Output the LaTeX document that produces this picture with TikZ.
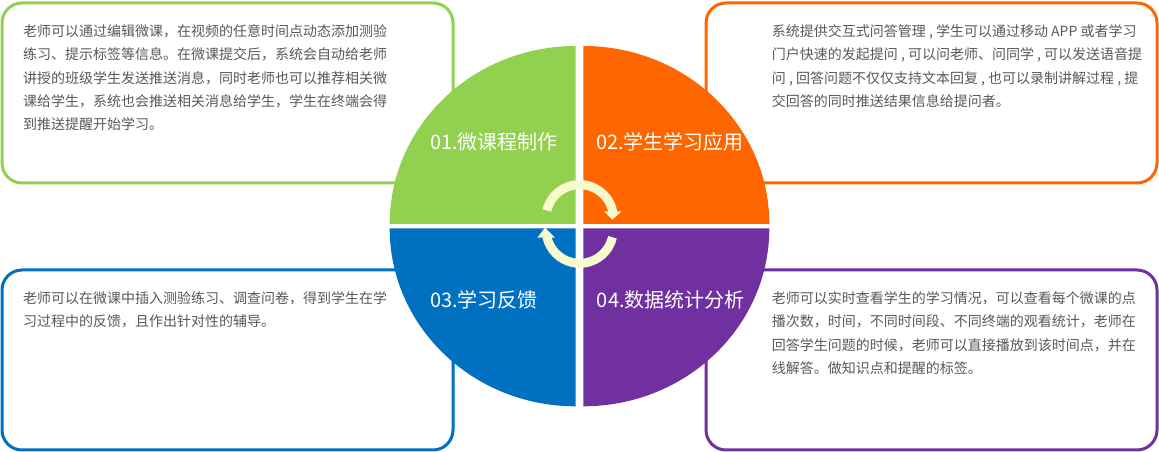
\documentclass[tikz,border=0pt]{standalone}
\usepackage{fontspec}
\setmainfont{Noto Sans CJK SC}
\definecolor{cgreen}{HTML}{92D050}
\definecolor{corange}{HTML}{FF6600}
\definecolor{cblue}{HTML}{0070C0}
\definecolor{cpurple}{HTML}{7030A0}
\definecolor{cring}{RGB}{248,250,205}
\definecolor{ctext}{HTML}{595959}
\tikzset{
  infobox/.style={line width=3pt, rounded corners=20pt, fill=white},
  txt/.style={inner sep=0pt, anchor=base west, text=ctext, font=\fontsize{14}{16}\selectfont},
  ttl/.style={inner sep=0pt, anchor=base west, text=white, font=\fontsize{20}{22}\selectfont},
  ring/.style={draw=cring, line width=9pt},
  ringhead/.style={fill=cring, draw=none},
}
\begin{document}
\begin{tikzpicture}[x=1pt,y=1pt]
\useasboundingbox (0,0) rectangle (1159,452);
\fill[white] (0,0) rectangle (1159,452);
% info boxes
\draw[infobox, draw=cgreen]  (2,449)   rectangle (453,269);
\draw[infobox, draw=corange] (706,449) rectangle (1157,269);
\draw[infobox, draw=cblue]   (2,182)   rectangle (453,2);
\draw[infobox, draw=cpurple] (706,182) rectangle (1157,2);
% quadrants
\fill[cgreen]  (575.7,228) -- (389.7,228) arc[start angle=180,end angle=90,x radius=186,y radius=178] -- cycle;
\fill[corange] (583.3,228) -- (583.3,406) arc[start angle=90,end angle=0,x radius=186,y radius=178] -- cycle;
\fill[cblue]   (575.7,223.7) -- (389.7,223.7) arc[start angle=180,end angle=270,x radius=186,y radius=178] -- cycle;
\fill[cpurple] (583.3,223.7) -- (769.3,223.7) arc[start angle=0,end angle=-90,x radius=186,y radius=178] -- cycle;
% cycle arrows
\coordinate (c1) at (579.7,233.6);
\coordinate (c2) at (579.7,222.3);
\draw[ring] ([shift={(166.5:33.8)}]c1) arc[start angle=166.5,end angle=10,radius=33.8];
\fill[ringhead] (604,240.7) -- (621.7,240.7) -- (612.3,232.3) -- cycle;
\draw[ring] ([shift={(-13:33.6)}]c2) arc[start angle=-13,end angle=-168,radius=33.6];
\fill[ringhead] (537.3,214.3) -- (555,214.3) -- (545,224.3) -- cycle;
% titles
\node[ttl] (t1) at (430,302.4) {01.微课程制作};
\node[ttl] (t2) at (596,302.4) {02.学生学习应用};
\node[ttl] (t3) at (430,144.4) {03.学习反馈};
\node[ttl] (t4) at (596.7,144.4) {04.数据统计分析};
% texts
\foreach \s [count=\i] in {{老师可以通过编辑微课，在视频的任意时间点动态添加测验},{练习、提示标签等信息。在微课提交后，系统会自动给老师},{讲授的班级学生发送推送消息，同时老师也可以推荐相关微},{课给学生，系统也会推送相关消息给学生，学生在终端会得},{到推送提醒开始学习。}}
  \node[txt] (tl\i) at (23,{415.3-23.3*(\i-1)}) {\s};
\foreach \s [count=\i] in {{系统提供交互式问答管理 , 学生可以通过移动 APP 或者学习},{门户快速的发起提问 , 可以问老师、问同学 , 可以发送语音提},{问 , 回答问题不仅仅支持文本回复 , 也可以录制讲解过程 , 提},{交回答的同时推送结果信息给提问者。}}
  \node[txt] (tr\i) at (771.7,{415.3-23.3*(\i-1)}) {\s};
\foreach \s [count=\i] in {{老师可以在微课中插入测验练习、调查问卷，得到学生在学},{习过程中的反馈，且作出针对性的辅导。}}
  \node[txt] (bl\i) at (23,{148.4-23.3*(\i-1)}) {\s};
\foreach \s [count=\i] in {{老师可以实时查看学生的学习情况，可以查看每个微课的点},{播次数，时间，不同时间段、不同终端的观看统计，老师在},{回答学生问题的时候，老师可以直接播放到该时间点，并在},{线解答。做知识点和提醒的标签。}}
  \node[txt] (br\i) at (771.7,{148.4-23.3*(\i-1)}) {\s};
\end{tikzpicture}
\end{document}
